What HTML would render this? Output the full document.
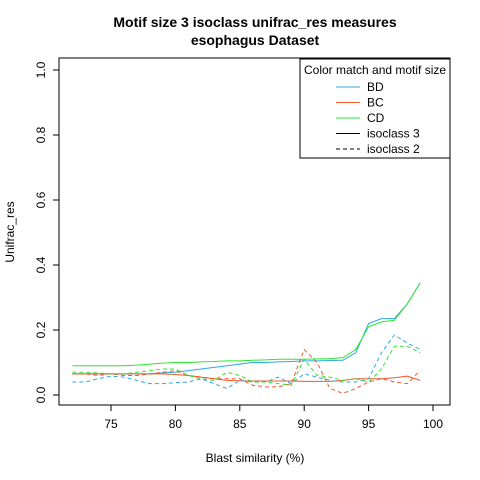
<!DOCTYPE html>
<html><head><meta charset="utf-8"><style>body{margin:0;background:#fff}svg{display:block;font-family:"Liberation Sans",Arial,sans-serif}</style></head>
<body>
<svg id="c" width="480" height="480">
<text x="255" y="27" text-anchor="middle" font-size="14" font-weight="bold">Motif size 3 isoclass unifrac_res measures</text>
<text x="255" y="45" text-anchor="middle" font-size="14" font-weight="bold">esophagus Dataset</text>
<rect x="59" y="58" width="391" height="347" fill="none" stroke="#000"/>
<text x="255" y="462" text-anchor="middle" font-size="12">Blast similarity (%)</text>
<text transform="translate(14,232) rotate(-90)" text-anchor="middle" font-size="12">Unifrac_res</text>
<g id="g"></g>
<rect x="300" y="59" width="150" height="99" fill="#fff" stroke="#000"/>
<text x="304" y="74" font-size="12">Color match and motif size</text>
<g id="lg"></g>
</svg>
<script>
const xs=[72,73,74,75,76,77,78,79,80,81,82,83,84,85,86,87,88,89,90,91,92,93,94,95,96,97,98,99];
const bdSolid=[0.065,0.065,0.065,0.065,0.065,0.065,0.065,0.068,0.07,0.075,0.08,0.085,0.09,0.095,0.1,0.1,0.102,0.103,0.105,0.105,0.106,0.107,0.13,0.22,0.235,0.235,0.28,0.345];
const bcSolid=[0.065,0.065,0.065,0.065,0.065,0.065,0.065,0.065,0.063,0.06,0.055,0.05,0.045,0.044,0.043,0.043,0.043,0.043,0.042,0.042,0.042,0.045,0.05,0.05,0.05,0.053,0.058,0.045];
const cdSolid=[0.09,0.09,0.09,0.09,0.09,0.092,0.095,0.098,0.1,0.1,0.102,0.103,0.105,0.105,0.107,0.108,0.11,0.11,0.11,0.111,0.112,0.115,0.14,0.21,0.225,0.23,0.28,0.345];
const bdDash=[0.04,0.04,0.05,0.058,0.055,0.045,0.035,0.035,0.038,0.04,0.05,0.035,0.02,0.045,0.04,0.04,0.055,0.035,0.065,0.055,0.045,0.04,0.04,0.05,0.13,0.185,0.16,0.14];
const bcDash=[0.065,0.065,0.06,0.065,0.06,0.06,0.065,0.07,0.075,0.06,0.055,0.05,0.05,0.05,0.03,0.025,0.025,0.035,0.14,0.1,0.02,0.005,0.02,0.04,0.05,0.04,0.035,0.075];
const cdDash=[0.07,0.07,0.068,0.065,0.065,0.07,0.075,0.08,0.08,0.06,0.05,0.045,0.07,0.06,0.04,0.04,0.035,0.03,0.11,0.06,0.055,0.045,0.05,0.04,0.08,0.15,0.15,0.13];
const xTicks=[75,80,85,90,95,100];
const yTicks=[0,0.2,0.4,0.6,0.8,1.0];
const legendLabels=["BD","BC","CD","isoclass 3","isoclass 2"];
const X=v=>111+(v-75)*12.88, Y=v=>395-v*325;
const g=document.getElementById('g'),lg=document.getElementById('lg'),NS='http://www.w3.org/2000/svg';
function mk(t,a,p){const e=document.createElementNS(NS,t);for(const k in a)e.setAttribute(k,a[k]);(p||g).appendChild(e);return e;}
xTicks.forEach(v=>{const l=mk('line',{x1:X(v),x2:X(v),y1:405,y2:411,stroke:'#000'});


const t=mk('text',{x:X(v),y:428,'text-anchor':'middle','font-size':12});t.textContent=v;

});
yTicks.forEach(v=>{const l=mk('line',{x1:53,x2:59,y1:Y(v),y2:Y(v),stroke:'#000'});


const t=mk('text',{transform:`translate(45,${Y(v)}) rotate(-90)`,'text-anchor':'middle','font-size':12});t.textContent=v.toFixed(1);

});
const series=[[bdSolid,'#2ea8e0',null,'bd-isoclass3-line'],[bcSolid,'#f0582a',null,'bc-isoclass3-line'],[cdSolid,'#2ee62e',null,'cd-isoclass3-line'],[bdDash,'#2ea8e0','4,3','bd-isoclass2-line'],[bcDash,'#f0582a','4,3','bc-isoclass2-line'],[cdDash,'#2ee62e','4,3','cd-isoclass2-line']];
series.forEach(([d,c,da,n])=>{const a={points:d.map((v,i)=>X(xs[i])+','+Y(v)).join(' '),fill:'none',stroke:c,'stroke-width':1};if(da)a['stroke-dasharray']=da;const p=mk('polyline',a);

});
const lc=['#2ea8e0','#f0582a','#2ee62e','#000','#000'];
legendLabels.forEach((s,i)=>{const y=87+i*15.5;const a={x1:336,x2:360,y1:y,y2:y,stroke:lc[i]};if(i==4)a['stroke-dasharray']='4,3';const l=mk('line',a,lg);


const t=mk('text',{x:367,y:y+4,'font-size':12},lg);t.textContent=s;

});
</script>
</body></html>
